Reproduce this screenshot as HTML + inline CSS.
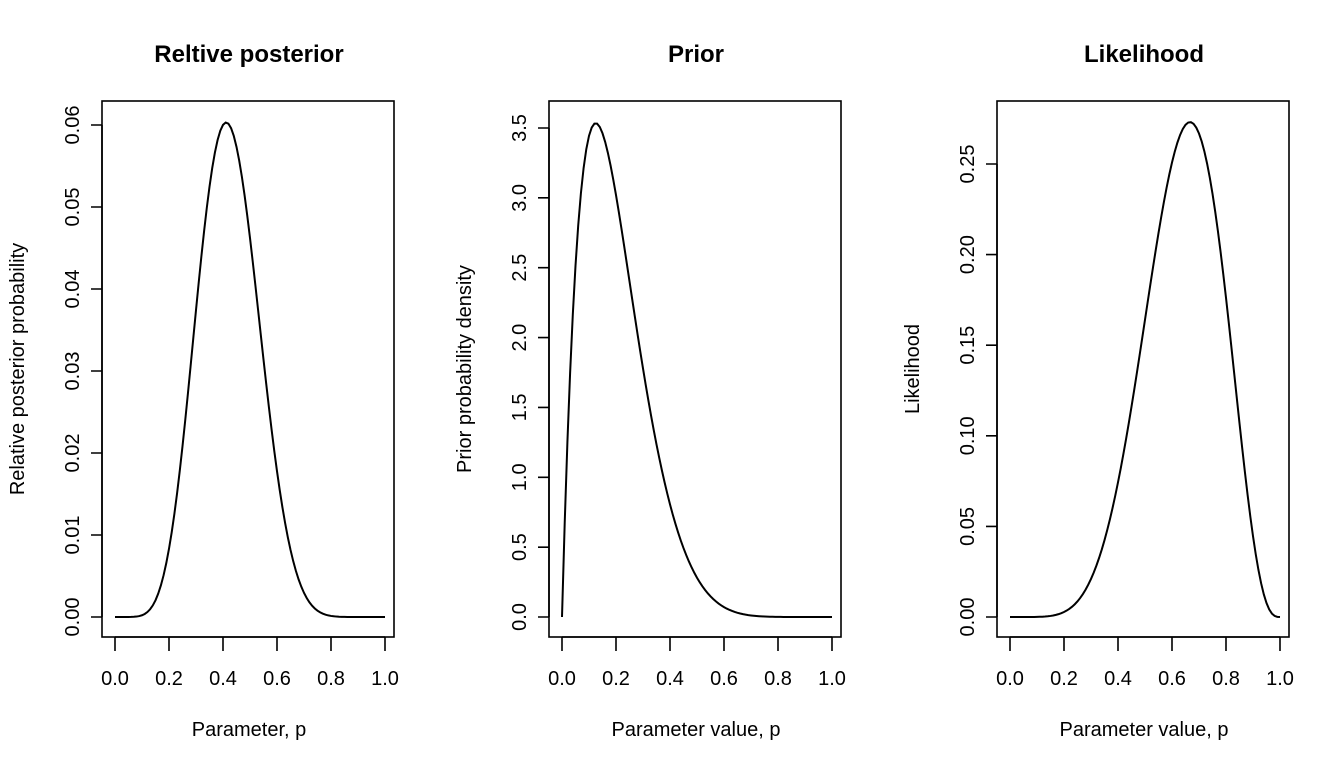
<!DOCTYPE html>
<html><head><meta charset="utf-8"><style>
html,body{margin:0;padding:0;background:#fff;}
svg{display:block;font-family:"Liberation Sans",Arial,sans-serif;}
text{fill:#000;font-size:20px;}
.t{font-weight:bold;font-size:24px;}
</style></head><body>
<svg id="s" width="1344" height="768" viewBox="0 0 1344 768" xmlns="http://www.w3.org/2000/svg">
<g fill="none" stroke="#000" stroke-width="1.6">
<rect x="102" y="101" width="292" height="536"/>
<rect x="549" y="101" width="292" height="536"/>
<rect x="997" y="101" width="292" height="536"/>
</g>
<g id="ax" fill="none" stroke="#000" stroke-width="1.6"></g>
<g id="lines" fill="none" stroke="#000" stroke-width="2"></g>
<text class="t" x="249" y="62" text-anchor="middle">Reltive posterior</text>
<text class="t" x="696" y="62" text-anchor="middle">Prior</text>
<text class="t" x="1144" y="62" text-anchor="middle">Likelihood</text>
<text x="249" y="736" text-anchor="middle">Parameter, p</text>
<text x="696" y="736" text-anchor="middle">Parameter value, p</text>
<text x="1144" y="736" text-anchor="middle">Parameter value, p</text>
<text transform="translate(24,369) rotate(-90)" text-anchor="middle">Relative posterior probability</text>
<text transform="translate(471,369) rotate(-90)" text-anchor="middle">Prior probability density</text>
<text transform="translate(919,369) rotate(-90)" text-anchor="middle">Likelihood</text>
<g text-anchor="middle">
<text x="115" y="685">0.0</text><text x="169" y="685">0.2</text><text x="223" y="685">0.4</text><text x="277" y="685">0.6</text><text x="331" y="685">0.8</text><text x="385" y="685">1.0</text>
<text x="562" y="685">0.0</text><text x="616" y="685">0.2</text><text x="670" y="685">0.4</text><text x="724" y="685">0.6</text><text x="778" y="685">0.8</text><text x="832" y="685">1.0</text>
<text x="1010" y="685">0.0</text><text x="1064" y="685">0.2</text><text x="1118" y="685">0.4</text><text x="1172" y="685">0.6</text><text x="1226" y="685">0.8</text><text x="1280" y="685">1.0</text>
</g>
<g text-anchor="middle">
<text transform="translate(79,617) rotate(-90)">0.00</text>
<text transform="translate(79,535) rotate(-90)">0.01</text>
<text transform="translate(79,453) rotate(-90)">0.02</text>
<text transform="translate(79,371) rotate(-90)">0.03</text>
<text transform="translate(79,289) rotate(-90)">0.04</text>
<text transform="translate(79,207) rotate(-90)">0.05</text>
<text transform="translate(79,125) rotate(-90)">0.06</text>
<text transform="translate(526,617) rotate(-90)">0.0</text>
<text transform="translate(526,547.1) rotate(-90)">0.5</text>
<text transform="translate(526,477.3) rotate(-90)">1.0</text>
<text transform="translate(526,407.4) rotate(-90)">1.5</text>
<text transform="translate(526,337.6) rotate(-90)">2.0</text>
<text transform="translate(526,267.7) rotate(-90)">2.5</text>
<text transform="translate(526,197.9) rotate(-90)">3.0</text>
<text transform="translate(526,128) rotate(-90)">3.5</text>
<text transform="translate(974,617) rotate(-90)">0.00</text>
<text transform="translate(974,526.4) rotate(-90)">0.05</text>
<text transform="translate(974,435.8) rotate(-90)">0.10</text>
<text transform="translate(974,345.2) rotate(-90)">0.15</text>
<text transform="translate(974,254.6) rotate(-90)">0.20</text>
<text transform="translate(974,164) rotate(-90)">0.25</text>
</g>
</svg>
<script>
(function(){
var ax=document.getElementById('ax'),ln=document.getElementById('lines');
function P(d){var e=document.createElementNS('http://www.w3.org/2000/svg','path');e.setAttribute('d',d);return e;}
var panels=[{x0:115,yt:[617,125],nt:7},{x0:562,yt:[617,128],nt:8},{x0:1010,yt:[617,164],nt:6}];
var base=[102,549,997];
panels.forEach(function(p,i){
 var d='M'+p.x0+' 637H'+(p.x0+270);
 for(var k=0;k<=5;k++){var x=p.x0+54*k;d+='M'+x+' 637V651';}
 var bx=base[i];d+='M'+bx+' '+p.yt[0]+'V'+p.yt[1];
 for(var k=0;k<p.nt;k++){var y=p.yt[0]+(p.yt[1]-p.yt[0])*k/(p.nt-1);d+='M'+bx+' '+y+'H'+(bx-11);}
 ax.appendChild(P(d));
});
var n=101,ps=[];for(var i=0;i<n;i++)ps.push(i/(n-1));
var prior=ps.map(function(p){return 72*p*Math.pow(1-p,7);});
var lik=ps.map(function(p){return 84*Math.pow(p,6)*Math.pow(1-p,3);});
var prod=ps.map(function(p,i){return prior[i]*lik[i];});
var mx=Math.max.apply(null,prod);var post=prod.map(function(v){return v/mx*0.0603;});
function draw(vals,x0,y0,scale){var d='';vals.forEach(function(v,i){d+=(i?'L':'M')+(x0+270*ps[i]).toFixed(2)+' '+(y0-v*scale).toFixed(2);});ln.appendChild(P(d));}
draw(post,115,617,(617-125)/0.06);
draw(prior,562,617,(617-128)/3.5);
draw(lik,1010,617,(617-164)/0.25);
})();
</script>
</body></html>
